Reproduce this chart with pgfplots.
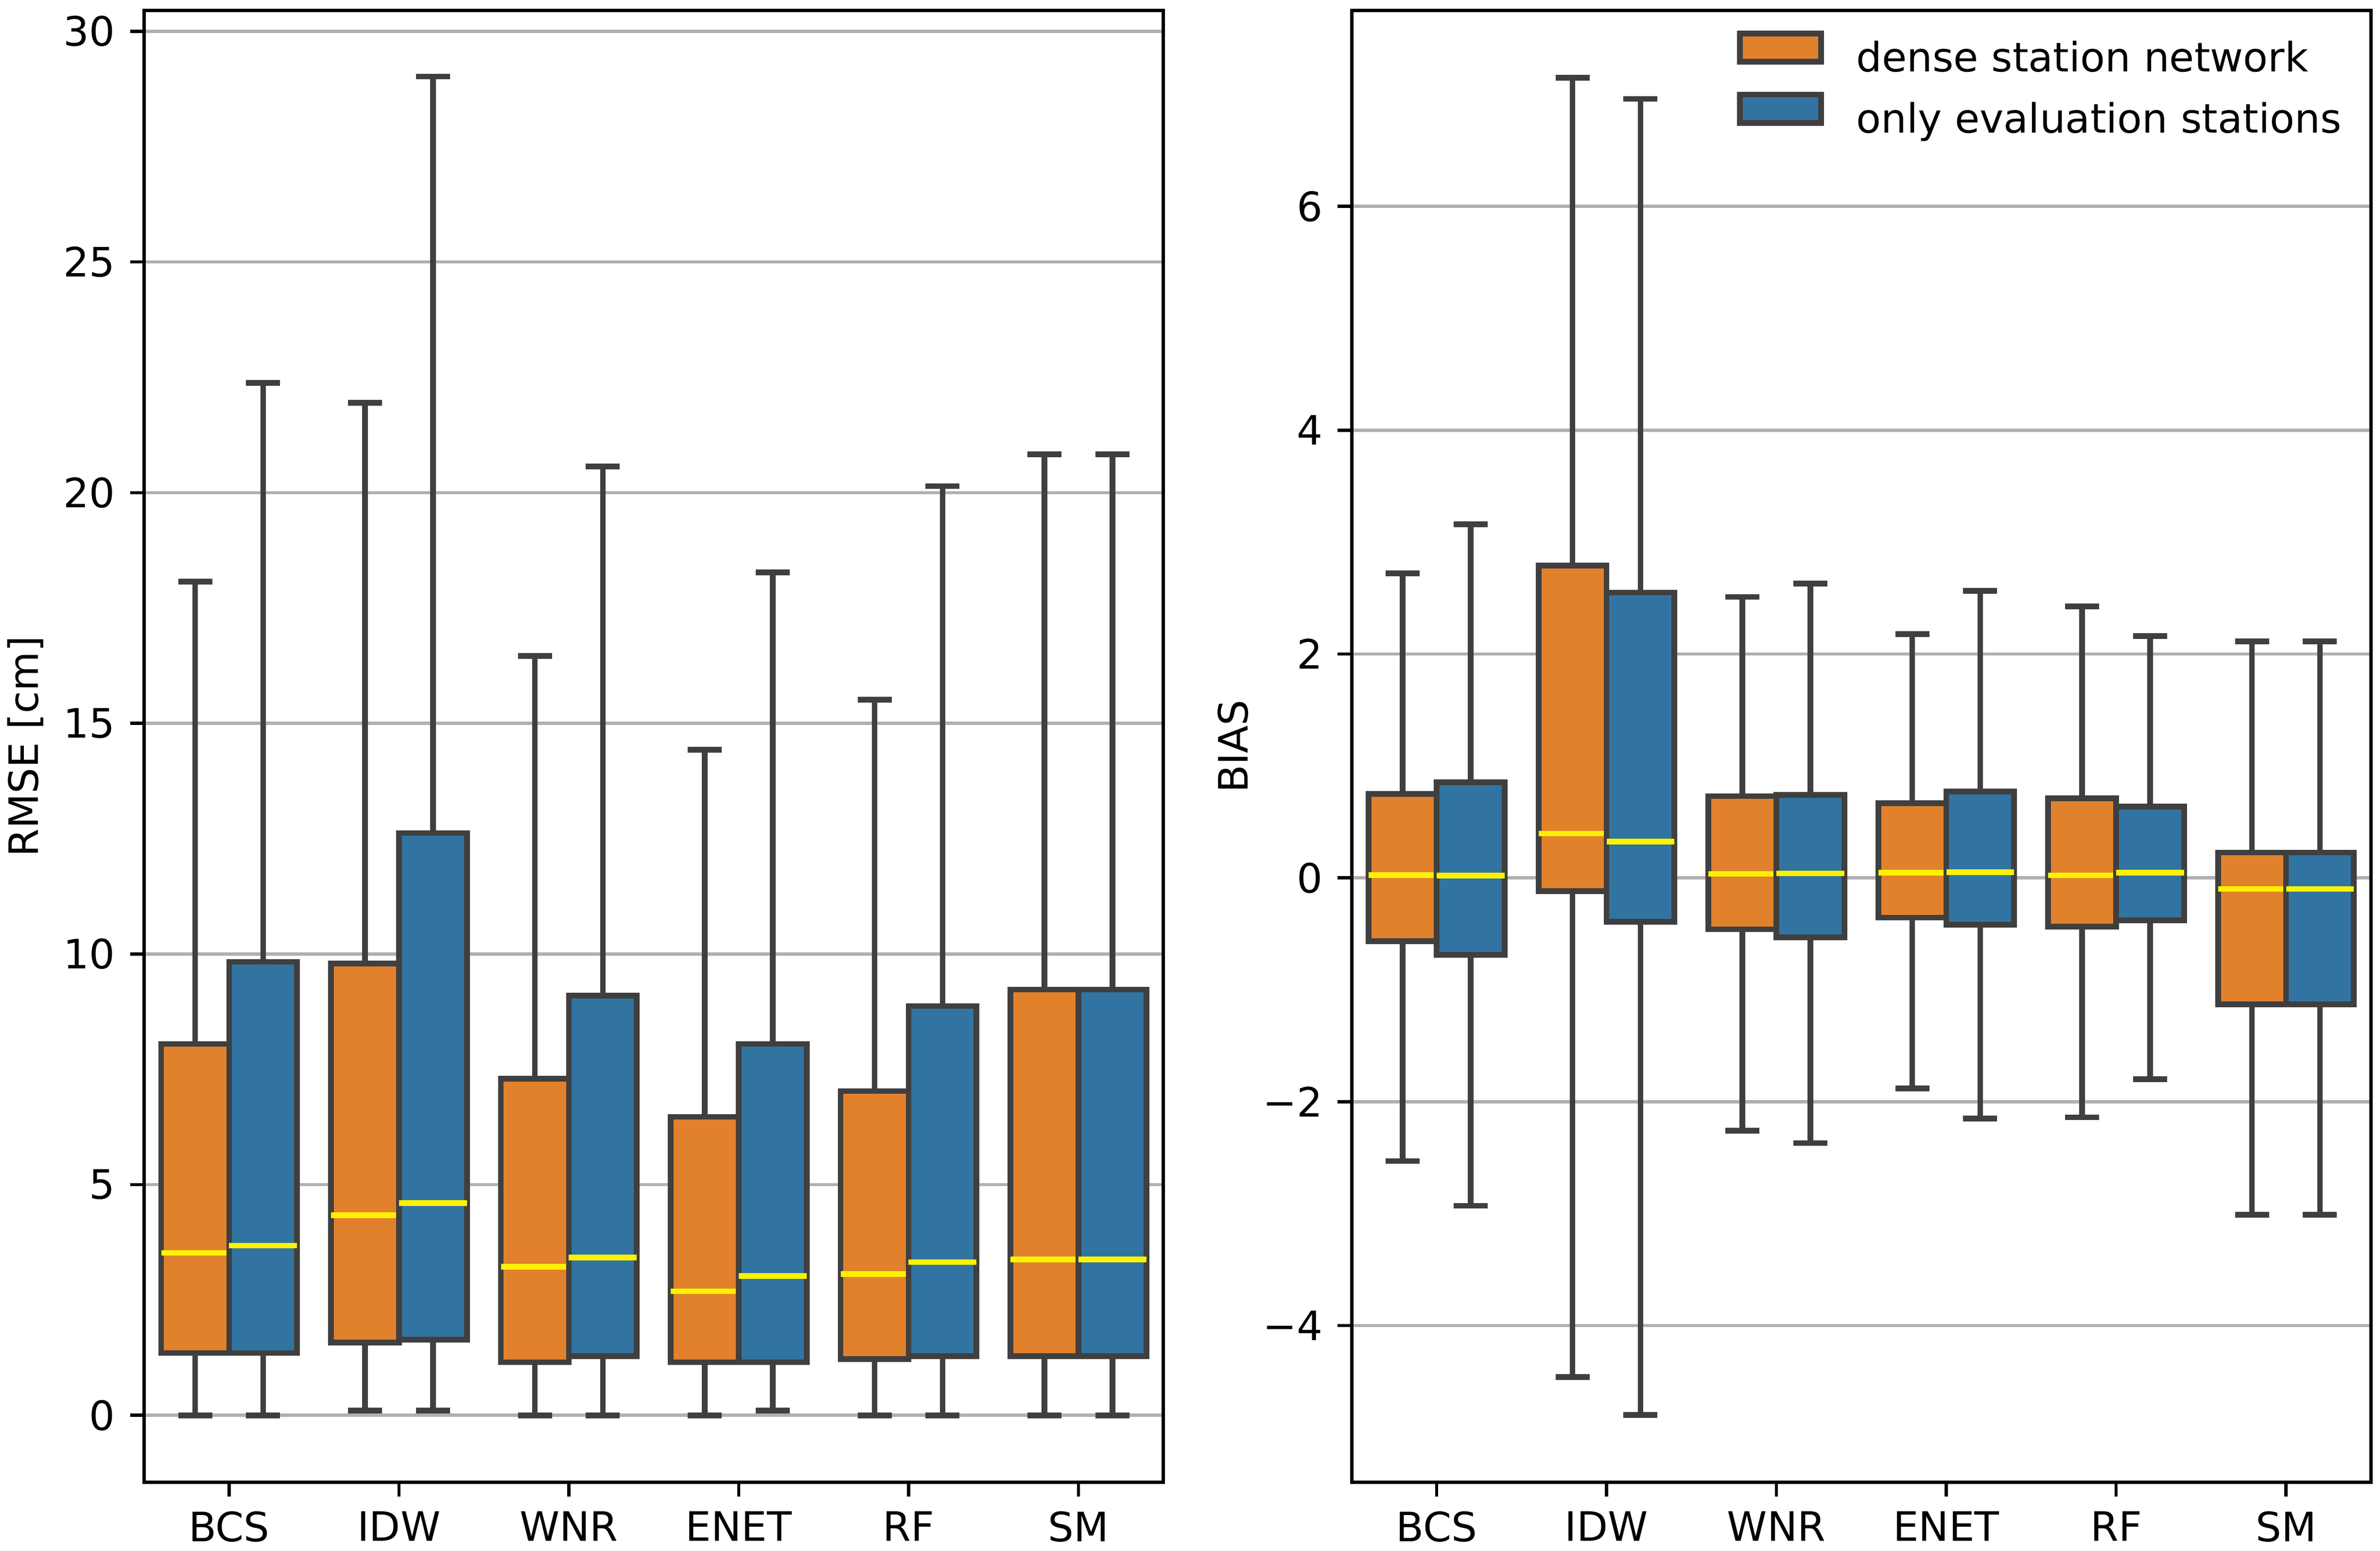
\documentclass[border=0pt]{standalone}
\usepackage{fontspec}
\setmainfont{DejaVu Sans}
\usepackage{pgfplots}
\pgfplotsset{compat=1.18}
\usepgfplotslibrary{statistics}

\definecolor{corange}{HTML}{E1812C}
\definecolor{cblue}{HTML}{3274A1}
\definecolor{cedge}{HTML}{3F3F3F}
\definecolor{cgrid}{HTML}{B0B0B0}

% one box: position, lower whisker, Q1, median, Q3, upper whisker, fill colour
\newcommand{\bx}[7]{%
  \addplot[fill=#7, draw=cedge, line width=1.4pt,
    boxplot prepared={draw position=#1, lower whisker=#2, lower quartile=#3,
      median=#4, upper quartile=#5, upper whisker=#6,
      box extend=0.4, whisker extend=0.2}]
    coordinates {};}

\pgfplotsset{
  boxstyle/.style={
    scale only axis, width=251.6pt, height=363.4pt,
    xmin=-0.5, xmax=5.5,
    xtick={0,1,2,3,4,5},
    xticklabels={BCS,IDW,WNR,ENET,RF,SM},
    tick align=outside, major tick length=3.5pt,
    tick style={black, line width=0.8pt},
    axis line style={line width=0.8pt},
    xtick pos=bottom, ytick pos=left,
    ymajorgrids=true,
    major grid style={cgrid, line width=0.8pt},
    /pgf/number format/assume math mode=true,
    yticklabel style={anchor=east, inner sep=0pt, xshift=-3.5pt},
    xticklabel style={anchor=north, inner sep=0pt, yshift=-3.5pt},
    ylabel style={at={(axis description cs:-0.1165,0.5)}, anchor=center, rotate=0},
    boxplot/draw direction=y,
    boxplot/every median/.style={draw=yellow, line width=1.4pt},
    boxplot/every whisker/.style={draw=cedge, line width=1.4pt},
    boxplot/every box/.style={draw=cedge, line width=1.4pt},
  }
}

\begin{document}
\begin{tikzpicture}
\begin{axis}[boxstyle, name=L,
  ymin=-1.45, ymax=30.45,
  ytick={0,5,10,15,20,25,30},
  ylabel={RMSE [cm]}]
\bx{-0.2}{0}{1.35}{3.52}{8.05}{18.07}{corange}
\bx{0.2}{0}{1.35}{3.68}{9.83}{22.38}{cblue}
\bx{0.8}{0.1}{1.58}{4.34}{9.79}{21.95}{corange}
\bx{1.2}{0.1}{1.64}{4.60}{12.62}{29.02}{cblue}
\bx{1.8}{0}{1.15}{3.22}{7.30}{16.46}{corange}
\bx{2.2}{0}{1.28}{3.42}{9.10}{20.57}{cblue}
\bx{2.8}{0}{1.15}{2.69}{6.47}{14.43}{corange}
\bx{3.2}{0.1}{1.15}{3.02}{8.05}{18.27}{cblue}
\bx{3.8}{0}{1.22}{3.06}{7.03}{15.51}{corange}
\bx{4.2}{0}{1.28}{3.32}{8.87}{20.14}{cblue}
\bx{4.8}{0}{1.28}{3.38}{9.23}{20.83}{corange}
\bx{5.2}{0}{1.28}{3.38}{9.23}{20.83}{cblue}
\end{axis}

\begin{axis}[boxstyle, name=R,
  at={(L.south east)}, xshift=46.5pt, anchor=south west,
  ymin=-5.40, ymax=7.75,
  ytick={-4,-2,0,2,4,6},
  yticklabels={−4,−2,0,2,4,6},
  ylabel={BIAS},
  legend cell align=left,
  legend image code/.code={\draw[#1] (0pt,0pt) rectangle (20pt,7pt);},
  legend style={at={(axis description cs:1,1)}, anchor=north east,
    xshift=-7.1pt, yshift=-4.75pt, draw=none, fill=none, inner sep=0pt,
    row sep=2.4pt, column sep=8pt,
    nodes={inner sep=0pt, text height=7.5pt, text depth=2.5pt}}]
\addlegendimage{fill=corange, draw=cedge, line width=1.4pt}
\addlegendentry{dense station network}
\addlegendimage{fill=cblue, draw=cedge, line width=1.4pt}
\addlegendentry{only evaluation stations}
\bx{-0.2}{-2.53}{-0.565}{0.025}{0.75}{2.72}{corange}
\bx{0.2}{-2.93}{-0.686}{0.02}{0.853}{3.16}{cblue}
\bx{0.8}{-4.46}{-0.119}{0.396}{2.79}{7.15}{corange}
\bx{1.2}{-4.80}{-0.393}{0.324}{2.55}{6.96}{cblue}
\bx{1.8}{-2.26}{-0.46}{0.036}{0.73}{2.51}{corange}
\bx{2.2}{-2.37}{-0.53}{0.04}{0.74}{2.63}{cblue}
\bx{2.8}{-1.88}{-0.355}{0.046}{0.666}{2.177}{corange}
\bx{3.2}{-2.15}{-0.419}{0.05}{0.771}{2.566}{cblue}
\bx{3.8}{-2.14}{-0.435}{0.023}{0.712}{2.426}{corange}
\bx{4.2}{-1.80}{-0.379}{0.046}{0.638}{2.16}{cblue}
\bx{4.8}{-3.01}{-1.129}{-0.099}{0.226}{2.113}{corange}
\bx{5.2}{-3.01}{-1.129}{-0.099}{0.226}{2.113}{cblue}
\end{axis}

\pgfresetboundingbox
\path[use as bounding box] ([shift={(-35.6pt,-16.9pt)}]L.south west) rectangle ([shift={(2.25pt,2.6pt)}]R.north east);
\end{tikzpicture}
\end{document}
